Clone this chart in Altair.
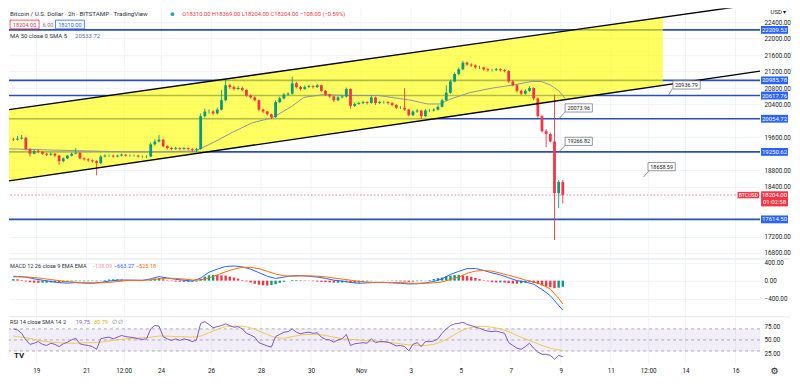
import json
import altair as alt
import numpy as np
import pandas as pd

FONT = "Roboto"
INK = "#131722"
GRID = "#f0f3fa"
W = 752
H1, H2, H3 = 250, 57, 47
D0, D1 = -1.09, 28.98          # days relative to 19 Oct 00:00
P0, P1 = 16680, 22735
M0, M1 = -794, 490
R0, R1 = 6.8, 91.8

# ---------------- data (4h candles from 18 Oct 00:00) ----------------
first_open = 19560
close = [19548,
 19571, 19594, 19321, 19207, 19275, 19252, 19207, 19184, 19207, 19161,
 19025, 19093, 19161, 19207, 19230, 19093, 19070, 19047, 19025, 18979,
 19139, 19161, 19161, 19139, 19161, 19184, 19161, 19161, 19161, 19139,
 19139, 19139, 19434, 19503, 19548, 19389, 19343, 19321, 19343, 19321,
 19343, 19321, 19298, 19321, 20117, 20231, 20231, 20186, 20277, 20504,
 20868, 20823, 20777, 20800, 20754, 20618, 20572, 20504, 20277, 20231,
 20163, 20094, 20459, 20550, 20641, 20663, 20914, 20823, 20777, 20823,
 20846, 20823, 20868, 20732, 20641, 20595, 20504, 20572, 20595, 20777,
 20368, 20413, 20436, 20459, 20436, 20572, 20436, 20459, 20459, 20436,
 20390, 20322, 20322, 20277, 20140, 20231, 20254, 20117, 20254, 20254,
 20277, 20345, 20504, 20686, 20959, 21141, 21255, 21415, 21369, 21346,
 21301, 21301, 21255, 21232, 21232, 21255, 21232, 21210, 20959, 20868,
 20732, 20663, 20732, 20800, 20550, 20117, 19753, 19685, 19503, 18251,
 18524, 18204]
high = [19600,
 19640, 19662, 19610, 19340, 19300, 19310, 19270, 19230, 19240, 19225,
 19180, 19120, 19180, 19230, 19343, 19250, 19120, 19100, 19070, 19050,
 19170, 19190, 19190, 19180, 19185, 19210, 19200, 19190, 19185, 19180,
 19165, 19170, 19480, 19560, 19662, 19560, 19410, 19370, 19380, 19360,
 19370, 19360, 19340, 19350, 20180, 20300, 20280, 20260, 20320, 20754,
 21028, 20900, 20860, 20850, 20830, 20770, 20650, 20600, 20520, 20300,
 20250, 20180, 20500, 20590, 20680, 20700, 21073, 20950, 20850, 20860,
 20880, 20870, 20900, 20880, 20750, 20660, 20610, 20600, 20630, 20810,
 20790, 20450, 20470, 20490, 20480, 20620, 20590, 20490, 20490, 20480,
 20460, 20410, 20360, 20800, 20300, 20260, 20290, 20270, 20290, 20290,
 20310, 20380, 20540, 20868, 21000, 21180, 21300, 21460, 21440, 21400,
 21370, 21340, 21320, 21280, 21270, 21290, 21280, 21260, 21230, 20990,
 20890, 20760, 20770, 20846, 20820, 20570, 20150, 19800, 19720, 20641,
 18569, 18569]
low = [19520,
 19530, 19550, 19290, 19139, 19190, 19220, 19180, 19150, 19160, 19130,
 18934, 19000, 19080, 19140, 19190, 19070, 19040, 19010, 18990, 18683,
 18950, 19120, 19130, 19110, 19120, 19140, 19140, 19135, 19140, 19115,
 19110, 19100, 19120, 19410, 19480, 19360, 19310, 19290, 19300, 19290,
 19300, 19290, 19250, 19240, 19300, 20080, 20180, 20140, 20160, 20260,
 20480, 20780, 20740, 20750, 20720, 20590, 20540, 20470, 20240, 20190,
 20130, 20049, 20080, 20430, 20520, 20610, 20640, 20790, 20740, 20760,
 20800, 20790, 20800, 20700, 20610, 20560, 20460, 20480, 20550, 20570,
 20299, 20340, 20390, 20410, 20400, 20420, 20390, 20410, 20420, 20400,
 20360, 20290, 20290, 20250, 20117, 20120, 20200, 20049, 20100, 20220,
 20230, 20250, 20330, 20490, 20660, 20940, 21110, 21230, 21330, 21310,
 21270, 21260, 21220, 21200, 21200, 21210, 21200, 21180, 20920, 20840,
 20690, 20630, 20640, 20710, 20500, 20080, 19720, 19366, 19480, 17113,
 17887, 18001]

hist = [35,
 30, 15, -20, -35, -45, -50, -45, -45, -40, -40,
 -45, -35, -30, -20, -10, -10, -15, -12, -10, -15,
 5, 15, 25, 30, 30, 25, 15, 10, 5, -3,
 -5, -3, 25, 45, 55, 30, 10, -10, -20, -25,
 -28, -25, -25, -20, 45, 90, 120, 130, 125, 120,
 115, 90, 70, 45, 15, -15, -40, -70, -90, -105,
 -110, -100, -80, -50, -25, 0, 15, 15, 12, 8,
 -5, -12, -20, -28, -35, -40, -45, -45, -42, -35,
 -48, -50, -45, -30, -18, -5, -2, 0, -3, -5,
 -8, -12, -18, -22, -28, -20, -12, -10, 5, 15,
 35, 55, 70, 95, 115, 125, 130, 120, 105, 85,
 60, 35, 10, -15, -35, -40, -40, -45, -55, -65,
 -70, -60, -45, -30, -50, -80, -110, -130, -150, -170,
 -160, -138.09]
rsi = [70,
 68, 62, 50, 42, 44, 47, 42, 40, 44, 42,
 38, 43, 46, 50, 53, 43, 41, 40, 38, 33,
 52, 54, 55, 52, 55, 58, 56, 55, 54, 52,
 51, 52, 70, 76, 75, 56, 52, 49, 52, 49,
 52, 50, 47, 50, 80, 83, 78, 72, 74, 76,
 79, 76, 73, 74, 70, 62, 59, 55, 45, 42,
 39, 37, 56, 60, 64, 65, 70, 64, 61, 63,
 64, 62, 63, 55, 51, 50, 46, 50, 52, 60,
 40, 43, 44, 45, 44, 52, 45, 47, 47, 46,
 43, 39, 40, 38, 30, 42, 45, 38, 47, 47,
 48, 52, 62, 70, 76, 79, 80, 82, 78, 76,
 73, 71, 68, 66, 65, 66, 64, 62, 45, 40,
 35, 33, 38, 44, 35, 28, 24, 24, 22, 15,
 22, 19.75]

# 8h samples (candle 0, every second candle, last candle)
macd = [100,
 95, 80, 40, 10, -20, -45, -55, -45, -55, -60,
 -40, -10, 10, 15, 10, 5, 40, 90, 60, 30,
 10, -10, 60, 190, 260, 320, 330, 310, 260, 180,
 100, 50, 80, 110, 115, 100, 80, 50, 10, -10,
 -40, -60, -50, -40, -40, -50, -60, -75, -70, -50,
 -20, 40, 140, 210, 270, 275, 230, 175, 130, 65,
 0, -30, -80, -200, -340, -560, -663.27]
signal = [85,
 85, 85, 70, 50, 25, 0, -25, -35, -45, -50,
 -50, -40, -20, 0, 8, 8, 15, 40, 55, 50,
 35, 15, 15, 60, 130, 200, 260, 300, 300, 270,
 210, 150, 110, 100, 105, 108, 100, 85, 60, 35,
 10, -15, -35, -40, -40, -42, -45, -55, -60, -58,
 -50, -30, 25, 80, 165, 215, 230, 215, 170, 120,
 70, 15, -30, -90, -190, -400, -525.18]
rsi_ma = [57,
 56, 54, 51, 48, 46, 45, 44, 44, 45, 45,
 46, 48, 50, 52, 53, 54, 55, 57, 57, 56,
 56, 55, 57, 63, 69, 74, 75, 75, 72, 66,
 60, 54, 53, 56, 59, 60, 60, 58, 55, 52,
 51, 50, 48, 47, 46, 45, 43, 41, 40, 40,
 42, 47, 55, 64, 71, 74, 75, 73, 70, 65,
 58, 52, 46, 40, 35, 32, 30.79]

ma_day = [-1.09, -0.78, 0.47, 2.03, 3.58, 5.14, 6.39, 7.09, 7.87, 8.65, 9.43,
          10.21, 10.71, 11.49, 12.54, 13.71, 14.22, 15.0, 15.66, 16.17, 16.56,
          17.34, 18.27, 19.05, 19.83, 20.22, 20.61, 20.92, 21.19]
ma_val = [19321, 19321, 19298, 19275, 19252, 19252, 19275, 19480, 19730, 19958, 20072,
          20345, 20572, 20641, 20618, 20618, 20572, 20504, 20413, 20413, 20527,
          20686, 20800, 20868, 20959, 20959, 20868, 20732, 20534]

levels = [22209.53, 20985.78, 20617.76, 20054.72, 19250.62, 17614.50]
last_price = 18204.00

chan_day = [-1.09, 28.98]
chan_lower = [18547, 21210]
chan_upper = [20276, 22848]
fill_day = [-1.09, 25.09]
fill_lower = [18547, 20865]
fill_upper = [20276, 22515]

callout_text = ["20936.79", "20073.96", "19266.82", "18658.59"]
callout_day = [26.04, 21.72, 21.72, 25.04]
callout_price = [20875, 20317, 19507, 18893]
pointer_day0 = [25.46, 21.19, 21.19, 24.54]
pointer_price0 = [20777, 20231, 19412, 18797]
pointer_day1 = [25.32, 20.92, 20.92, 24.31]
pointer_price1 = [20634, 20049, 19252, 18638]

x_ticks = [0, 2, 3.5, 5, 7, 9, 11, 13, 15, 17, 19, 21, 23, 24.5, 26, 28]
x_labels = ["19", "21", "12:00", "24", "26", "28", "30", "Nov", "3", "5", "7",
            "9", "11", "12:00", "14", "16"]
# price-scale ticks that stay visible (the others sit under the coloured labels)
price_ticks = [16800, 17200, 18400, 18800, 19600, 20400, 20800, 21200, 21600, 22000, 22400]

# ---------------- tables ----------------
n = len(close)
idx = np.arange(n)
day = -1 + idx / 6 + 1 / 12
opens = [first_open] + close[:-1]
candles = pd.DataFrame({"day": day, "open": opens, "high": high, "low": low, "close": close})
candles["dir"] = np.where(candles["close"] >= candles["open"], "up", "down")

ind = pd.DataFrame({"day": day, "hist": hist, "rsi": rsi})
prev = ind["hist"].shift(1).fillna(0)
ind["hc"] = np.select([(ind["hist"] >= 0) & (ind["hist"] >= prev), ind["hist"] >= 0,
                       ind["hist"] < prev], ["pg", "pf", "nf"], "ng")

cidx = [0] + list(range(1, n - 1, 2)) + [n - 1]
slow = pd.DataFrame({"day": day[cidx], "macd": macd, "signal": signal, "rsima": rsi_ma})
ma_df = pd.DataFrame({"day": ma_day, "ma": ma_val})
chan_df = pd.DataFrame({"day": chan_day, "lo": chan_lower, "hi": chan_upper})
fill_df = pd.DataFrame({"day": fill_day, "lo": fill_lower, "hi": fill_upper})
lev_df = pd.DataFrame({"price": levels})
call_df = pd.DataFrame({"label": callout_text, "day": callout_day, "price": callout_price,
                        "d0": pointer_day0, "p0": pointer_price0,
                        "d1": pointer_day1, "p1": pointer_price1})
last_df = pd.DataFrame({"price": [last_price], "t": ["18204.00"], "c": ["01:02:58"], "s": ["BTCUSD"]})

# ---------------- scales / axes ----------------
label_expr = "%s[indexof(%s, datum.value)]" % (json.dumps(x_labels), json.dumps(x_ticks))
xs = alt.Scale(domain=[D0, D1], nice=False, zero=False)
AX_X0 = alt.Axis(values=x_ticks, labels=False, ticks=False, domain=False, grid=True,
                 gridColor=GRID, title=None, zindex=0)
AX_X = alt.Axis(values=x_ticks, labelExpr=label_expr, ticks=False, domain=False, grid=True,
                gridColor=GRID, title=None, labelFontSize=6.3, labelColor=INK, labelPadding=4,
                labelFlush=False, labelOverlap=False, labelFont=FONT, zindex=0)


def X(field, axis=AX_X0):
    return alt.X(field, type="quantitative", scale=xs, axis=axis)


def yaxis(values, grid=True):
    return alt.Axis(orient="right", values=values, format=".2f", grid=grid, gridColor=GRID,
                    ticks=False, domain=False, labelFontSize=6.3, labelColor=INK,
                    labelPadding=4, labelFont=FONT, title=None, zindex=0)


AX_P = yaxis(price_ticks)
AX_M = yaxis([-400, 0, 400])
AX_R = yaxis([25, 50, 75], grid=False)
ps = alt.Scale(domain=[P0, P1], nice=False, zero=False)
ms = alt.Scale(domain=[M0, M1], nice=False, zero=False)
rs = alt.Scale(domain=[R0, R1], nice=False, zero=False)


def YP(f):
    return alt.Y(f, type="quantitative", scale=ps, axis=AX_P)


def YM(f):
    return alt.Y(f, type="quantitative", scale=ms, axis=AX_M)


def YR(f):
    return alt.Y(f, type="quantitative", scale=rs, axis=AX_R)


def txt(text, x, y, color=INK, size=6.2, align="left", weight="normal", font=FONT):
    return alt.Chart(pd.DataFrame({"t": [text]})).mark_text(
        align=align, baseline="middle", fontSize=size, color=color, font=font,
        fontWeight=weight).encode(x=alt.value(x), y=alt.value(y), text="t:N")


def box(x, y, path, size, fill, stroke, sw=0.8):
    return alt.Chart(pd.DataFrame({"a": [0]})).mark_point(
        shape=path, size=size, filled=True, fill=fill, stroke=stroke, strokeWidth=sw,
        opacity=1).encode(x=alt.value(x), y=alt.value(y))


candle_colors = alt.Scale(domain=["up", "down"], range=["#089981", "#f23645"])
BOX_C = "M-1,-0.3H1V0.3H-1Z"
BOX_R = "M0,-0.29H2V0.29H0Z"
BOX_P = "M0,-0.28H2V0.84H0Z"
BOX_T = "M-2,-0.3H0V0.3H-2Z"

# ---------------- main price panel ----------------
main_layers = [
    alt.Chart(lev_df).mark_rule(color="#2b4fb3", strokeWidth=1.6).encode(y=YP("price")),
    alt.Chart(fill_df).mark_area(color="#ffff00", opacity=0.62).encode(
        x=X("day"), y=YP("lo"), y2=alt.Y2("hi")),
    alt.Chart(last_df).mark_rule(color="#f23645", strokeDash=[1.5, 2], strokeWidth=0.8,
                                 opacity=0.8).encode(y=YP("price")),
    alt.Chart(ma_df).mark_line(color="#8c93a8", strokeWidth=1, clip=True).encode(
        x=X("day"), y=YP("ma")),
    alt.Chart(candles).mark_rule(strokeWidth=0.9).encode(
        x=X("day"), y=YP("low"), y2=alt.Y2("high"),
        color=alt.Color("dir:N", scale=candle_colors, legend=None)),
    alt.Chart(candles).mark_rule(strokeWidth=2.8).encode(
        x=X("day"), y=YP("open"), y2=alt.Y2("close"),
        color=alt.Color("dir:N", scale=candle_colors, legend=None)),
    alt.Chart(chan_df).mark_line(color="#000000", strokeWidth=1.4, clip=True).encode(
        x=X("day"), y=YP("lo")),
    alt.Chart(chan_df).mark_line(color="#000000", strokeWidth=1.4, clip=True).encode(
        x=X("day"), y=YP("hi")),
    alt.Chart(call_df).mark_rule(color="#787b86", strokeWidth=0.8).encode(
        x=X("d0"), x2=alt.X2("d1"), y=YP("p0"), y2=alt.Y2("p1")),
    alt.Chart(call_df).mark_point(shape=BOX_C, size=745, filled=True, fill="white",
                                  stroke="#787b86", strokeWidth=0.8, opacity=1).encode(
        x=X("day"), y=YP("price")),
    alt.Chart(call_df).mark_text(fontSize=5.4, color=INK, font=FONT).encode(
        x=X("day"), y=YP("price"), text="label:N"),
    # price scale labels
    alt.Chart(lev_df).mark_point(shape=BOX_R, size=729, filled=True, fill="#2962ff",
                                 strokeWidth=0, opacity=1).encode(
        x=alt.value(W + 1), y=YP("price")),
    alt.Chart(lev_df).mark_text(fontSize=6, color="white", font=FONT, align="center").encode(
        x=alt.value(W + 14.5), y=YP("price"), text=alt.Text("price:Q", format=".2f")),
    alt.Chart(last_df).mark_point(shape=BOX_P, size=729, filled=True, fill="#f23645",
                                  strokeWidth=0, opacity=1).encode(
        x=alt.value(W + 1), y=YP("price")),
    alt.Chart(last_df).mark_text(fontSize=6, color="white", font=FONT, align="center").encode(
        x=alt.value(W + 14.5), y=YP("price"), text="t:N"),
    alt.Chart(last_df).mark_text(fontSize=6, color="white", font=FONT, align="center",
                                 dy=6.6).encode(
        x=alt.value(W + 14.5), y=YP("price"), text="c:N"),
    alt.Chart(last_df).mark_point(shape=BOX_T, size=462, filled=True, fill="#f23645",
                                  strokeWidth=0, opacity=1).encode(
        x=alt.value(W - 1), y=YP("price")),
    alt.Chart(last_df).mark_text(fontSize=5.2, color="white", font=FONT, align="center").encode(
        x=alt.value(W - 11.7), y=YP("price"), text="s:N"),
    txt("USD \u25be", W + 18.5, 4, size=6, align="center"),
    # header
    txt("Bitcoin / U.S. Dollar \u00b7 2h \u00b7 BITSTAMP \u00b7 TradingView", 1, 6,
        color="#2a2e39", size=6.2),
    alt.Chart(pd.DataFrame({"a": [0]})).mark_circle(size=14, color="#26a69a", opacity=1).encode(
        x=alt.value(163.6), y=alt.value(6)),
    txt("O18310.00  H18369.00  L18204.00  C18204.00  \u2212108.00 (\u22120.59%)", 173.4, 6,
        color="#f23645", size=5.8),
    box(15.6, 16.3, BOX_C, 841, "white", "#f23645"),
    txt("18204.00", 15.6, 16.3, color="#f23645", size=5.6, align="center"),
    txt("6.00", 39, 16.3, color="#787b86", size=5.4, align="center"),
    box(61, 16.3, BOX_C, 841, "white", "#2962ff"),
    txt("18210.00", 61, 16.3, color="#2962ff", size=5.6, align="center"),
    txt("MA 50 close 0 SMA 5", 1, 28.2, color="#2a2e39", size=6),
    txt("20533.72", 66.2, 28.2, color="#5d6fa8", size=6),
]
main = alt.layer(*main_layers).properties(width=W, height=H1)

# ---------------- MACD panel ----------------
hist_colors = alt.Scale(domain=["pg", "pf", "ng", "nf"],
                        range=["#26a69a", "#b2dfdb", "#ffcdd2", "#ff5252"])
macd_layers = [
    alt.Chart(ind).mark_rule(strokeWidth=2.4).encode(
        x=X("day"), y=YM("hist"), y2=alt.datum(0),
        color=alt.Color("hc:N", scale=hist_colors, legend=None)),
    alt.Chart(slow).mark_line(color="#2962ff", strokeWidth=1).encode(x=X("day"), y=YM("macd")),
    alt.Chart(slow).mark_line(color="#ff6d00", strokeWidth=1).encode(x=X("day"), y=YM("signal")),
    alt.Chart(pd.DataFrame({"a": [0]})).mark_rule(color="#e0e3eb", strokeWidth=1).encode(
        x=alt.value(0), x2=alt.value(W + 30), y=alt.value(0)),
    txt("MACD 12 26 close 9 EMA EMA", 1, 7.5, color="#2a2e39", size=5.6),
    txt("\u2212138.09", 83, 7.5, color="#f59aa2", size=5.6),
    txt("\u2212663.27", 105, 7.5, color="#2962ff", size=5.6),
    txt("\u2212525.18", 127, 7.5, color="#ff6d00", size=5.6),
]
macd_c = alt.layer(*macd_layers).properties(width=W, height=H2)

# ---------------- RSI panel ----------------
rsi_layers = [
    alt.Chart(pd.DataFrame({"a": [30], "b": [70]})).mark_rect(color="#7e57c2", opacity=0.1).encode(
        y=YR("a"), y2=alt.Y2("b")),
    alt.Chart(pd.DataFrame({"v": [70, 50, 30]})).mark_rule(
        color="#9598a1", strokeDash=[3, 3], strokeWidth=0.8).encode(y=YR("v")),
    alt.Chart(slow).mark_line(color="#f2c94c", strokeWidth=1).encode(
        x=X("day", AX_X), y=YR("rsima")),
    alt.Chart(ind).mark_line(color="#7e57c2", strokeWidth=1).encode(
        x=X("day", AX_X), y=YR("rsi")),
    alt.Chart(pd.DataFrame({"a": [0]})).mark_rule(color="#e0e3eb", strokeWidth=1).encode(
        x=alt.value(0), x2=alt.value(W + 30), y=alt.value(0)),
    txt("RSI 14 close SMA 14 2", 1, 5.6, color="#2a2e39", size=5.6),
    txt("19.75", 67, 5.6, color="#7e57c2", size=5.6),
    txt("30.79", 85, 5.6, color="#e0b400", size=5.6),
    txt("\u2205  \u2205", 103, 5.6, color="#787b86", size=5.6),
    txt("TV", 5, 39.5, color=INK, size=8, weight="bold"),
    txt("\u2699", W + 14.6, 54.5, color=INK, size=9, align="center", font="DejaVu Sans"),
]
rsi_c = alt.layer(*rsi_layers).properties(width=W, height=H3)

chart = alt.vconcat(main, macd_c, rsi_c, spacing=0).properties(
    padding={"left": 0, "top": 0, "right": 1, "bottom": 0}, background="white"
).configure_view(stroke=None).configure_text(font=FONT)

chart.save("out.html", embed_options={"renderer": "svg", "actions": False})
